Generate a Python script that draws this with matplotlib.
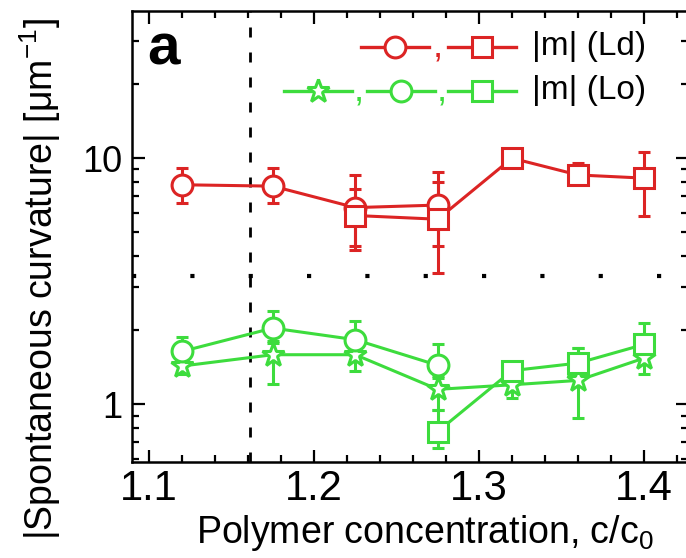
import matplotlib

matplotlib.use("Agg")
import matplotlib.pyplot as plt
from matplotlib.ticker import FixedLocator, MultipleLocator, LogLocator, NullFormatter

plt.rcParams.update({"font.family": ["Liberation Sans", "DejaVu Sans"], "mathtext.fontset": "custom",
                     "mathtext.rm": "Liberation Sans", "mathtext.it": "Liberation Sans"})

RED = "#dc2424"
GREEN = "#3ddc3d"

# Ld phase
ld_circ_x = [1.12, 1.175, 1.225, 1.275]
ld_circ = [7.8, 7.7, 6.3, 6.45]
ld_circ_lo = [6.6, 6.6, 4.4, 4.4]
ld_circ_hi = [9.15, 9.15, 8.55, 8.8]

ld_sq_x = [1.225, 1.275, 1.32, 1.36, 1.40]
ld_sq = [5.85, 5.65, 10.0, 8.55, 8.3]
ld_sq_lo = [4.25, 3.4, 9.7, 7.9, 5.85]
ld_sq_hi = [7.5, 8.0, 10.3, 9.6, 10.6]

# Lo phase
lo_star_x = [1.12, 1.175, 1.225, 1.275, 1.32, 1.36, 1.40]
lo_star = [1.43, 1.59, 1.59, 1.15, 1.20, 1.25, 1.54]
lo_star_lo = [1.33, 1.21, 1.37, 0.95, 1.06, 0.88, 1.33]
lo_star_hi = [1.52, 1.77, 1.75, 1.30, 1.30, 1.70, 1.70]

lo_circ_x = [1.12, 1.175, 1.225, 1.275]
lo_circ = [1.64, 2.04, 1.83, 1.44]
lo_circ_lo = [1.45, 1.80, 1.62, 1.28]
lo_circ_hi = [1.88, 2.40, 2.19, 1.75]

lo_sq_x = [1.275, 1.32, 1.36, 1.40]
lo_sq = [0.775, 1.37, 1.47, 1.75]
lo_sq_lo = [0.665, 1.30, 1.35, 1.55]
lo_sq_hi = [0.95, 1.42, 1.70, 2.13]

c_threshold = 1.161
m_threshold = 3.33

fig = plt.figure(figsize=(6.86, 5.58), dpi=100)
ax = fig.add_axes([0.192, 0.172, 0.811, 0.809])


def series(x, y, lo, hi, color, marker, ms):
    yerr = [[v - l for v, l in zip(y, lo)], [h - v for v, h in zip(y, hi)]]
    ax.errorbar(x, y, yerr=yerr, color=color, lw=2.2, marker=marker, ms=ms,
                mfc="white", mec=color, mew=2.2, capsize=4, capthick=2.2, zorder=3)


series(ld_circ_x, ld_circ, ld_circ_lo, ld_circ_hi, RED, "o", 15)
series(ld_sq_x, ld_sq, ld_sq_lo, ld_sq_hi, RED, "s", 14)
series(lo_star_x, lo_star, lo_star_lo, lo_star_hi, GREEN, "*", 17)
series(lo_circ_x, lo_circ, lo_circ_lo, lo_circ_hi, GREEN, "o", 15)
series(lo_sq_x, lo_sq, lo_sq_lo, lo_sq_hi, GREEN, "s", 14)

ax.axvline(c_threshold, color="black", lw=2, ls=(0, (3.6, 5.4)), zorder=1)
ax.axhline(m_threshold, color="black", lw=3, ls=(0, (1, 13)), zorder=1)

ax.set_yscale("log")
ax.set_xlim(1.0895, 1.4267)
ax.set_ylim(0.5825, 39.8)
ax.xaxis.set_major_locator(MultipleLocator(0.1))
ax.xaxis.set_minor_locator(MultipleLocator(0.02))
ax.yaxis.set_major_locator(FixedLocator([1, 10]))
ax.yaxis.set_minor_locator(LogLocator(base=10, subs=range(2, 10)))
ax.yaxis.set_minor_formatter(NullFormatter())
ax.set_yticklabels(["1", "10"])
ax.tick_params(which="both", direction="in", top=True, right=True, width=1.6)
ax.tick_params(which="major", length=9)
ax.tick_params(which="minor", length=5)
ax.tick_params(axis="x", labelsize=30, pad=5)
ax.tick_params(axis="y", labelsize=26, pad=7)
for s in ax.spines.values():
    s.set_linewidth(1.8)

fig.text(425 / 686, 0.027, "Polymer concentration, c/c$_0$", fontsize=27, ha="center", va="baseline")
fig.text(40 / 686, 1 - 279 / 558, "|Spontaneous curvature| [$\\mu$m$^{-1}$]", fontsize=27,
         rotation=90, ha="center", va="center")

ax.text(0.0275, 0.88, "a", transform=ax.transAxes, fontsize=42, fontweight="bold", va="baseline")


# hand-drawn key: segment + marker items separated by commas
def key_item(cx, cy, color, marker, ms):
    half = 34 / 556.3
    ax.plot([cx - half, cx + half], [cy, cy], color=color, lw=2.4, transform=ax.transAxes,
            clip_on=False, zorder=5)
    ax.plot([cx], [cy], color=color, marker=marker, ms=ms, mfc="white", mec=color, mew=2.2,
            transform=ax.transAxes, clip_on=False, zorder=6)


def key_comma(cx, cy, color):
    ax.text(cx, cy - 0.022, ",", transform=ax.transAxes, fontsize=26, ha="center",
            va="baseline", color=color, zorder=7)


def fx(px):
    return (px - 131.7) / 556.3


row1, row2 = 0.92, 0.822
key_item(fx(395), row1, RED, "o", 15)
key_item(fx(482), row1, RED, "s", 14)
key_comma(fx(438), row1, RED)
key_item(fx(318), row2, GREEN, "*", 17)
key_item(fx(401), row2, GREEN, "o", 15)
key_item(fx(482), row2, GREEN, "s", 14)
key_comma(fx(359), row2, GREEN)
key_comma(fx(442), row2, GREEN)
ax.text(fx(532), row1, "|m| (Ld)", transform=ax.transAxes, fontsize=24, ha="left", va="center")
ax.text(fx(532), row2, "|m| (Lo)", transform=ax.transAxes, fontsize=24, ha="left", va="center")

fig.savefig("out.png", dpi=100)
